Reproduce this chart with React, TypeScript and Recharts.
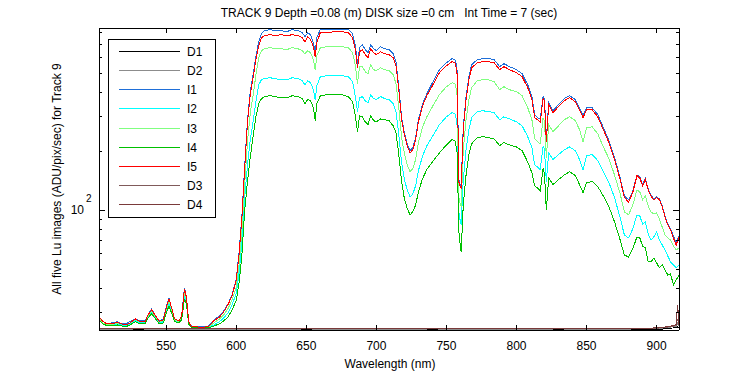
import { LineChart, Line, XAxis, YAxis, Legend } from 'recharts'

const FONT = "'Liberation Sans', Arial, Helvetica, sans-serif"

// wavelength grid (nm) for the five light series
const wavelength = [
  502, 505, 508, 511, 515, 518, 521, 524, 528, 531,
  535, 537, 539.5, 542, 545, 548, 550, 552, 554, 556,
  559, 561, 563, 564.5, 566, 568, 572, 576, 580, 584,
  588, 591, 594, 597, 600, 602, 604, 606, 608, 610,
  612, 614, 616, 618, 620, 624, 628, 632, 636, 640,
  644, 647, 649, 651, 653, 655, 656.3, 657.5, 660, 665,
  670, 675, 680, 683, 685, 686.5, 688, 690, 692, 694,
  696, 698, 700, 703, 706, 709, 712, 714, 716, 718,
  720, 722, 724, 726, 728, 730, 733, 736, 740, 745,
  750, 754, 756, 757.5, 759, 760.5, 762, 764, 766, 768,
  772, 776, 780, 784, 788, 791, 795, 800, 804, 808,
  811, 813, 815, 817, 819, 820, 821.3, 823, 826, 830,
  834, 838, 842, 845, 847.5, 850, 854, 858, 862, 866,
  870, 874, 877, 880, 883, 886, 888, 890, 892, 894,
  896, 898, 900, 902, 904, 906, 908, 910, 912, 914,
  916,
]

const i1 = [
  28.5, 27.0, 26.3, 26.6, 27.0, 26.3, 26.3, 27.0, 27.9, 27.3,
  27.3, 29.2, 31.4, 29.2, 27.3, 27.9, 32.1, 35.7, 31.4, 27.9,
  27.3, 28.9, 40.2, 35.7, 27.0, 25.7, 25.4, 25.4, 25.7, 27.6,
  28.9, 30.6, 33.2, 37.0, 44.6, 61.2, 93.5, 168, 289, 402,
  490, 606, 722, 793, 822, 832, 822, 822, 812, 832,
  822, 803, 766, 803, 784, 714, 635, 757, 835, 835,
  838, 838, 835, 793, 689, 558, 673, 697, 658, 635,
  697, 665, 650, 681, 665, 658, 627, 571, 426, 296,
  248, 218, 201, 208, 234, 289, 349, 392, 446, 520,
  564, 592, 585, 539, 138, 133, 266, 379, 479, 551,
  585, 592, 592, 585, 539, 558, 539, 520, 496, 436,
  379, 307, 296, 292, 383, 366, 229, 353, 321, 345,
  370, 383, 366, 333, 303, 333, 333, 307, 263, 226,
  185, 146, 118, 113, 125, 151, 148, 135, 145, 128,
  120, 114, 117, 114, 105, 93.5, 85.1, 80.2, 73.9, 68.1,
  73.9,
]

const i2 = [
  27.9, 26.6, 26.0, 26.0, 26.3, 26.0, 25.7, 26.3, 27.3, 26.6,
  26.6, 28.5, 30.3, 28.5, 26.6, 27.0, 30.6, 33.6, 30.3, 27.3,
  27.0, 28.2, 37.0, 34.0, 26.6, 25.4, 25.1, 25.1, 25.3, 26.0,
  27.0, 28.2, 29.9, 32.9, 37.8, 47.9, 68.9, 116, 170, 229,
  282, 357, 436, 462, 468, 473, 468, 462, 462, 473,
  468, 457, 436, 457, 446, 411, 366, 431, 479, 485,
  485, 485, 479, 452, 379, 318, 374, 379, 361, 353,
  388, 370, 366, 379, 370, 366, 349, 318, 242, 174,
  143, 127, 117, 121, 133, 159, 189, 213, 237, 273,
  299, 314, 310, 282, 94.6, 84.1, 143, 203, 257, 296,
  318, 321, 318, 314, 289, 299, 292, 282, 269, 237,
  208, 170, 166, 161, 213, 203, 140, 196, 181, 192,
  203, 210, 201, 181, 161, 189, 192, 179, 157, 138,
  116, 91.3, 74.8, 72.2, 80.2, 94.6, 93.5, 85.1, 87.1, 75.7,
  70.5, 73.1, 77.5, 70.5, 66.5, 62.7, 58.4, 54.5, 52.6, 50.8,
  52.6,
]

const i3 = [
  28.2, 26.6, 26.0, 26.0, 26.6, 26.3, 26.0, 26.6, 27.6, 27.0,
  27.0, 28.9, 30.6, 28.9, 27.0, 27.3, 31.4, 34.4, 31.0, 27.6,
  27.0, 28.5, 38.3, 34.8, 26.6, 25.4, 25.3, 25.3, 25.4, 26.6,
  27.9, 29.2, 31.4, 34.8, 40.6, 53.2, 79.3, 136, 223, 314,
  383, 490, 599, 650, 665, 673, 665, 665, 658, 673,
  665, 650, 627, 650, 635, 585, 520, 613, 673, 681,
  681, 681, 673, 635, 545, 441, 539, 539, 508, 496,
  551, 520, 514, 532, 520, 514, 490, 441, 333, 234,
  194, 170, 157, 163, 181, 221, 266, 299, 337, 388,
  426, 446, 441, 402, 113, 104, 203, 289, 366, 421,
  457, 462, 462, 452, 411, 426, 411, 402, 383, 333,
  289, 231, 223, 218, 296, 282, 185, 273, 251, 269,
  289, 299, 286, 257, 223, 263, 266, 245, 210, 183,
  151, 121, 98.1, 94.6, 106, 127, 124, 113, 118, 105,
  98.1, 95.8, 97.0, 90.2, 82.1, 74.8, 72.2, 70.5, 65.7, 62.7,
  64.2,
]

const i4 = [
  27.6, 26.3, 25.7, 25.7, 26.0, 25.7, 25.4, 26.0, 27.0, 26.3,
  26.3, 28.2, 29.6, 28.2, 26.3, 26.6, 29.9, 32.5, 29.6, 27.0,
  26.6, 27.6, 35.3, 32.9, 26.3, 25.3, 25.1, 25.1, 25.1, 25.7,
  26.3, 27.3, 28.5, 31.0, 34.8, 42.6, 59.1, 100, 140, 187,
  237, 299, 349, 370, 379, 383, 379, 374, 374, 383,
  379, 370, 349, 366, 361, 333, 286, 349, 383, 388,
  388, 388, 379, 357, 303, 251, 303, 299, 282, 273,
  303, 286, 282, 292, 289, 286, 269, 248, 192, 140,
  114, 102, 94.6, 98.1, 106, 124, 145, 161, 176, 196,
  215, 229, 226, 203, 74.8, 61.2, 106, 151, 192, 218,
  234, 237, 234, 231, 213, 221, 215, 210, 201, 176,
  155, 133, 130, 125, 163, 153, 100, 146, 135, 143,
  151, 157, 150, 135, 123, 138, 140, 132, 118, 104,
  87.1, 70.5, 59.1, 57.7, 63.5, 73.1, 72.2, 65.7, 64.2, 54.5,
  54.5, 57.0, 53.9, 50.8, 52.6, 49.6, 46.7, 47.3, 41.6, 44.1,
  46.7,
]

const i5 = [
  28.5, 27.0, 26.3, 26.3, 26.8, 26.3, 26.0, 26.6, 27.9, 27.1,
  27.1, 29.2, 31.0, 29.2, 27.1, 27.6, 31.8, 35.3, 31.4, 27.9,
  27.3, 28.9, 39.7, 35.7, 27.0, 25.5, 25.4, 25.3, 25.5, 27.3,
  28.5, 30.3, 32.9, 36.6, 44.1, 59.8, 91.3, 164, 282, 388,
  473, 585, 689, 757, 775, 784, 775, 784, 775, 784,
  775, 757, 722, 766, 739, 681, 606, 714, 803, 803,
  812, 812, 803, 757, 658, 532, 642, 658, 620, 599,
  665, 635, 620, 642, 627, 620, 599, 545, 411, 289,
  242, 213, 196, 203, 229, 282, 341, 383, 431, 502,
  545, 571, 564, 520, 135, 130, 257, 366, 462, 532,
  564, 571, 571, 564, 520, 539, 520, 502, 479, 421,
  366, 296, 289, 282, 374, 357, 223, 345, 314, 337,
  361, 374, 357, 325, 296, 325, 325, 299, 257, 221,
  181, 143, 116, 110, 123, 150, 146, 133, 143, 127,
  118, 113, 116, 113, 104, 92.4, 84.1, 79.3, 72.2, 66.5,
  73.1,
]

// dark frames, sparser grid
const darkWavelength = [502, 530, 560, 590, 620, 650, 680, 710, 740, 770, 800, 830, 860, 885, 900, 905, 909, 912, 914, 915, 916]
const d1 = [24.6, 24.6, 24.6, 24.7, 24.6, 24.6, 24.6, 24.6, 24.6, 24.7, 24.6, 24.6, 24.6, 24.6, 24.7, 24.8, 25.0, 25.1, 25.2, 25.4, 25.3]
const d2 = [24.7, 24.8, 24.7, 24.7, 24.7, 24.8, 24.7, 24.7, 24.8, 24.7, 24.7, 24.8, 24.7, 24.8, 24.9, 25.1, 25.3, 25.5, 25.6, 26.5, 25.8]
const d3 = [24.8, 24.8, 24.8, 24.9, 24.8, 24.8, 24.8, 24.9, 24.8, 24.8, 24.8, 24.9, 24.8, 24.9, 25.0, 25.2, 25.4, 25.6, 25.9, 28.0, 26.0]
const d4 = [24.9, 24.9, 24.9, 24.9, 24.9, 24.9, 24.9, 24.9, 24.9, 24.9, 24.9, 24.9, 24.9, 25.0, 25.1, 25.3, 25.6, 25.8, 26.1, 33.0, 26.0]

const xTicks = [550, 600, 650, 700, 750, 800, 850, 900]
const yTicks = [30, 40, 50, 60, 70, 80, 90, 100, 200, 300, 400, 500, 600, 700, 800]

const series = [
  { key: 'D1', color: '#000000', dark: true },
  { key: 'D2', color: '#8c8c8c', dark: true },
  { key: 'I1', color: '#1f6fd8', dark: false },
  { key: 'I2', color: '#00ffff', dark: false },
  { key: 'I3', color: '#80ff80', dark: false },
  { key: 'I4', color: '#00c000', dark: false },
  { key: 'I5', color: '#ff0000', dark: false },
  { key: 'D3', color: '#805a5a', dark: true },
  { key: 'D4', color: '#7a3a3a', dark: true },
]

const data = wavelength.map((w, i) => ({ w, I1: i1[i], I2: i2[i], I3: i3[i], I4: i4[i], I5: i5[i] }))
const darkData = darkWavelength.map((w, i) => ({ w, D1: d1[i], D2: d2[i], D3: d3[i], D4: d4[i] }))

const BottomTick = (props: any) => {
  const { x, y, payload } = props
  return (
    <g>
      <line x1={x} x2={x} y1={y} y2={y - 5} stroke="#000" />
      <text x={x} y={y + 20} textAnchor="middle" fontSize={12} fontFamily={FONT} fill="#000">
        {payload.value}
      </text>
    </g>
  )
}

const TopTick = (props: any) => {
  const { x, y } = props
  return <line x1={x} x2={x} y1={y} y2={y + 5} stroke="#000" />
}

const LeftTick = (props: any) => {
  const { x, y, payload } = props
  const major = payload.value === 100
  return (
    <g>
      <line x1={x} x2={x + (major ? 6 : 3)} y1={y} y2={y} stroke="#000" />
      {major && (
        <>
          <text x={x - 15} y={y + 4} textAnchor="end" fontSize={12} fontFamily={FONT} fill="#000">10</text>
          <text x={x - 13} y={y - 8} fontSize={10} fontFamily={FONT} fill="#000">2</text>
        </>
      )}
    </g>
  )
}

const RightTick = (props: any) => {
  const { x, y, payload } = props
  const major = payload.value === 100
  return <line x1={x} x2={x - (major ? 6 : 3)} y1={y} y2={y} stroke="#000" />
}

const LegendBox = () => (
  <svg width={108} height={179} style={{ display: 'block' }}>
    <rect x={0.5} y={0.5} width={107} height={178} fill="#fff" stroke="#000" />
    {series.map((s, i) => {
      const ly = Math.round(11.7 + i * 19.2) + 0.5
      return (
        <g key={s.key}>
          <line x1={11} x2={72} y1={ly} y2={ly} stroke={s.color} />
          <text x={79} y={ly + 4.5} fontSize={12} fontFamily={FONT} fill="#000">{s.key}</text>
        </g>
      )
    })}
  </svg>
)

export default function App() {
  return (
    <div style={{ position: 'absolute', left: 0, top: 0, width: 750, height: 375, background: '#fff', shapeRendering: 'crispEdges' }}>
      <LineChart width={750} height={375} data={data} margin={{ top: 27, right: 70, bottom: 15, left: 59 }}>
        <XAxis
          xAxisId="bottom"
          dataKey="w"
          type="number"
          domain={[502, 916]}
          allowDataOverflow
          ticks={xTicks}
          interval={0}
          height={30}
          tickSize={0}
          tickMargin={0}
          tickLine={false}
          axisLine={{ stroke: '#000' }}
          tick={BottomTick}
        />
        <XAxis
          xAxisId="top"
          orientation="top"
          dataKey="w"
          type="number"
          domain={[502, 916]}
          allowDataOverflow
          ticks={xTicks}
          interval={0}
          height={1}
          tickSize={0}
          tickMargin={0}
          tickLine={false}
          axisLine={{ stroke: '#000' }}
          tick={TopTick}
        />
        <YAxis
          yAxisId="left"
          type="number"
          scale="log"
          domain={[24.5, 848]}
          allowDataOverflow
          ticks={yTicks}
          interval={0}
          width={40}
          tickSize={0}
          tickMargin={0}
          tickLine={false}
          axisLine={{ stroke: '#000' }}
          tick={LeftTick}
        />
        <YAxis
          yAxisId="right"
          orientation="right"
          type="number"
          scale="log"
          domain={[24.5, 848]}
          allowDataOverflow
          ticks={yTicks}
          interval={0}
          width={1}
          tickSize={0}
          tickMargin={0}
          tickLine={false}
          axisLine={{ stroke: '#000' }}
          tick={RightTick}
        />
        {series.map((s) => (
          <Line
            key={s.key}
            xAxisId="bottom"
            yAxisId="left"
            data={s.dark ? darkData : undefined}
            dataKey={s.key}
            type="linear"
            stroke={s.color}
            strokeWidth={1}
            dot={false}
            activeDot={false}
            isAnimationActive={false}
          />
        ))}
        <Legend
          layout="vertical"
          align="center"
          verticalAlign="middle"
          wrapperStyle={{ left: 108, top: 39, width: 108, height: 179 }}
          content={() => <LegendBox />}
        />
      </LineChart>
      <svg
        width={750}
        height={375}
        style={{ position: 'absolute', left: 0, top: 0, pointerEvents: 'none' }}
      >
        <text x={389} y={17} textAnchor="middle" fontSize={12} fontFamily={FONT} fill="#000" style={{ whiteSpace: 'pre' }}>
          {'TRACK 9 Depth =0.08 (m) DISK size =0 cm   Int Time = 7 (sec)'}
        </text>
        <text x={390} y={368} textAnchor="middle" fontSize={12} fontFamily={FONT} fill="#000">
          Wavelength (nm)
        </text>
        <text x={61} y={179} textAnchor="middle" fontSize={12} fontFamily={FONT} fill="#000" transform="rotate(-90 61 179)">
          All five Lu images (ADU/pix/sec) for Track 9
        </text>
      </svg>
    </div>
  )
}
